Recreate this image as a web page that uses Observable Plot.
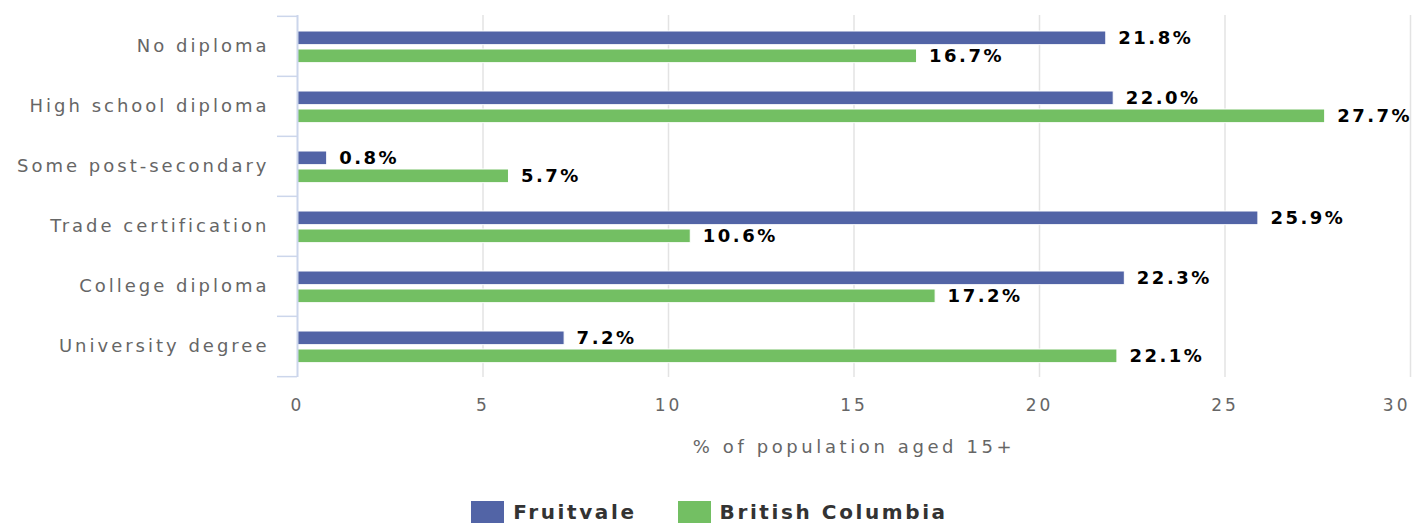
<!DOCTYPE html>
<html><head><meta charset="utf-8">
<script src="https://cdn.jsdelivr.net/npm/d3@7"></script>
<script src="https://cdn.jsdelivr.net/npm/@observablehq/plot@0.6"></script>
<style>
body{margin:0;background:#fff;font-family:"DejaVu Sans",sans-serif;}
#legend{display:flex;justify-content:center;align-items:flex-start;gap:41px;margin-top:30px;height:23px;padding-left:6px;}
.item{display:flex;align-items:center;}
.sw{width:33px;height:23px;margin-right:9px;}
.lab{font-size:20px;font-weight:bold;letter-spacing:2.6px;color:#333;}
</style></head>
<body><div id="chart"></div><div id="legend"></div>
<script>
const categories = ["No diploma","High school diploma","Some post-secondary","Trade certification","College diploma","University degree"];
const series = ["Fruitvale","British Columbia"];
const fruitvale = [21.8,22.0,0.8,25.9,22.3,7.2];
const bc = [16.7,27.7,5.7,10.6,17.2,22.1];
const xTicks = [0,5,10,15,20,25,30];
const colors = ["#5264a6","#73bf63"];
const xLabel = "% of population aged 15+";

const W = 1413, H = 470, mt = 15, mb = 93;
const band = (H - mt - mb) / categories.length;
const dF = categories.map((c,i)=>({cat:c, v:fruitvale[i]}));
const dB = categories.map((c,i)=>({cat:c, v:bc[i]}));
const lastBand = [categories[categories.length-1]];

const plot = Plot.plot({
  width: W, height: H,
  marginLeft: 297, marginRight: 3, marginTop: mt, marginBottom: mb,
  style: {fontFamily: "DejaVu Sans, sans-serif", background: "#fff"},
  x: {domain: [0,30], ticks: xTicks, label: null},
  y: {domain: categories, padding: 0, label: null},
  marks: [
    Plot.ruleX(xTicks.slice(1), {stroke: "#e3e3e3", strokeWidth: 1.5}),
    Plot.barX(dF, {x: "v", y: "cat", fill: colors[0], stroke: "#fff", strokeWidth: 1, insetTop: 15, insetBottom: band - 29}),
    Plot.barX(dB, {x: "v", y: "cat", fill: colors[1], stroke: "#fff", strokeWidth: 1, insetTop: 33, insetBottom: band - 47}),
    Plot.ruleX([0], {stroke: "#ccd6eb", strokeWidth: 2}),
    Plot.ruleY(categories, {y: d=>d, dy: -band/2, x1: 0, x2: 0, insetLeft: -20, stroke: "#ccd6eb", strokeWidth: 1.5}),
    Plot.ruleY(lastBand, {y: d=>d, dy: band/2, x1: 0, x2: 0, insetLeft: -20, stroke: "#ccd6eb", strokeWidth: 1.5}),
    Plot.text(dF, {x: "v", y: "cat", text: d=>d.v.toFixed(1)+"%", dx: 12, dy: -8, textAnchor: "start", fill: "#000", fontWeight: "bold", fontSize: 18, className: "val"}),
    Plot.text(dB, {x: "v", y: "cat", text: d=>d.v.toFixed(1)+"%", dx: 12, dy: 10, textAnchor: "start", fill: "#000", fontWeight: "bold", fontSize: 18, className: "val"}),
    Plot.axisY({tickSize: 0, tickPadding: 28, fontSize: 18, fill: "#666", label: null, className: "ylab"}),
    Plot.axisX({ticks: xTicks, tickSize: 0, tickPadding: 21, fontSize: 17, fill: "#666", label: null, className: "xlab"}),
    Plot.text([xLabel], {frameAnchor: "bottom", dy: 75, text: d=>d, fontSize: 18, fill: "#666", className: "xtitle"})
  ]
});
const s = d3.select(plot);
s.selectAll(".ylab text").style("letter-spacing","3px");
s.selectAll(".xlab text").style("letter-spacing","3px");
s.selectAll(".val text").style("letter-spacing","2.5px");
s.selectAll(".xtitle text").style("letter-spacing","3.6px");
const xt = s.selectAll(".xlab text").nodes();
d3.select(xt[xt.length-1]).attr("text-anchor","end").attr("dx","0");
document.getElementById("chart").appendChild(plot);

const lg = document.getElementById("legend");
series.forEach((sr,i)=>{
  const it = document.createElement("div"); it.className="item";
  it.innerHTML = `<div class="sw" style="background:${colors[i]}"></div><span class="lab">${sr}</span>`;
  lg.appendChild(it);
});
</script></body></html>
